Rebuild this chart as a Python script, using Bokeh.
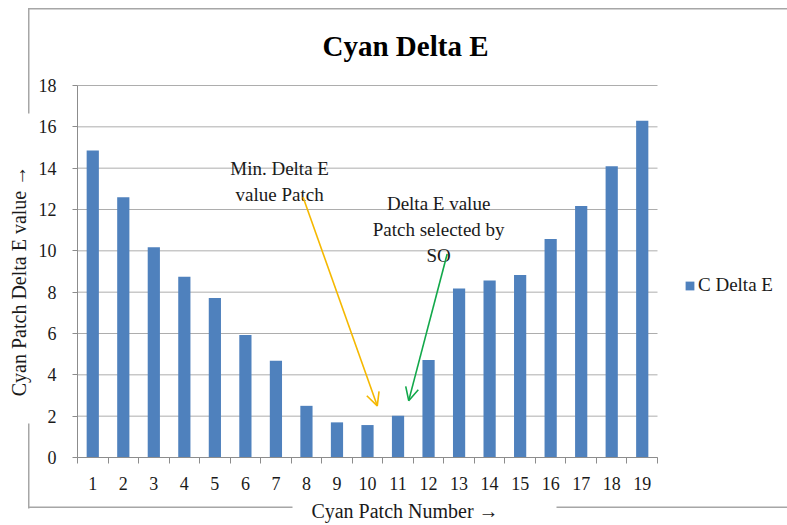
from math import pi
from bokeh.plotting import figure
from bokeh.models import (Label, Arrow, OpenHead, BoxAnnotation, FixedTicker,
                          Legend, LegendItem, ColumnDataSource, LinearAxis)
from bokeh.embed import file_html
from bokeh.resources import INLINE

# ---------------- data ----------------
patches = list(range(1, 20))
delta_e = [14.85, 12.59, 10.17, 8.75, 7.72, 5.93, 4.68, 2.50, 1.70, 1.57,
           2.02, 4.72, 8.18, 8.56, 8.83, 10.57, 12.17, 14.09, 16.30]
y_ticks = [0, 2, 4, 6, 8, 10, 12, 14, 16, 18]
series_name = "C Delta E"
title_text = "Cyan Delta E"
x_label = "Cyan Patch Number    \u2192"
y_label = "Cyan Patch Delta E value    \u2192"
note_min = ["Min. Delta E", "value Patch"]
note_so = ["Delta E value", "Patch selected by", "SO"]

# ---------------- style / layout ----------------
FONT = "Liberation Serif"
BAR = "#4F81BD"
GRID = "#adadad"
AXIS = "#8c8c8c"
BORDER = "#a6a6a6"
TXT = "#1a1a1a"

W, H = 787, 525
# plot area in canvas pixels
PL, PR, PT, PB = 77, 657, 85, 457
x_lo, x_hi = patches[0] - 0.5, patches[-1] + 0.5
y_lo, y_hi = y_ticks[0], y_ticks[-1]
sx_unit = (PR - PL) / (x_hi - x_lo)
sy_unit = (PB - PT) / (y_hi - y_lo)

x_range = (x_lo - PL / sx_unit, x_hi + (W - PR) / sx_unit)
y_range = (y_lo - (H - PB) / sy_unit, y_hi + PT / sy_unit)

p = figure(width=W, height=H, x_range=x_range, y_range=y_range,
           output_backend="svg", toolbar_location=None,
           x_axis_location=None, y_axis_location=None,
           min_border=0, min_border_left=0, min_border_right=0,
           min_border_top=0, min_border_bottom=0)
p.outline_line_color = None
p.background_fill_color = "white"
p.border_fill_color = "white"
p.xgrid.visible = False
p.ygrid.visible = False

# horizontal gridlines across the plot area
p.segment(x0=[x_lo] * len(y_ticks), x1=[x_hi] * len(y_ticks),
          y0=y_ticks, y1=y_ticks, line_color=GRID, line_width=1,
          level="underlay")

src = ColumnDataSource(dict(x=patches, top=delta_e))
bars = p.vbar(x="x", top="top", width=0.4, source=src,
              fill_color=BAR, line_color=None)

# x axis: labels at centers, ticks at category boundaries
minor = [x - 0.5 for x in patches] + [patches[-1] + 0.5]
xaxis = LinearAxis(fixed_location=y_lo, bounds=(x_lo, x_hi),
                   ticker=FixedTicker(ticks=patches, minor_ticks=minor))
xaxis.major_tick_out = 0
xaxis.major_tick_in = 0
xaxis.minor_tick_out = 6
xaxis.minor_tick_in = 0
xaxis.minor_tick_line_color = AXIS
xaxis.axis_line_color = AXIS
xaxis.major_label_text_font = FONT
xaxis.major_label_text_font_size = "18px"
xaxis.major_label_text_color = TXT
xaxis.major_label_standoff = 13
p.add_layout(xaxis, "below")

yaxis = LinearAxis(fixed_location=x_lo, bounds=(y_lo, y_hi),
                   ticker=FixedTicker(ticks=y_ticks))
yaxis.major_tick_out = 5
yaxis.major_tick_in = 0
yaxis.major_tick_line_color = AXIS
yaxis.minor_tick_line_color = None
yaxis.axis_line_color = AXIS
yaxis.major_label_text_font = FONT
yaxis.major_label_text_font_size = "18px"
yaxis.major_label_text_color = TXT
yaxis.major_label_standoff = 16
p.add_layout(yaxis, "left")

# ---------------- chart-area border (canvas px -> screen units) ----------------
def edge(l, r, t, b):
    p.add_layout(BoxAnnotation(left=l, right=r, top=H - t, bottom=H - b,
                               left_units="screen", right_units="screen",
                               top_units="screen", bottom_units="screen",
                               fill_color=BORDER, fill_alpha=1.0,
                               line_color=None, level="underlay"))

edge(27.5, 800, 7.5, 9)       # top
edge(27.5, 29, 7.5, 113)      # left, upper part
edge(27.5, 29, 423, 508)      # left, lower part
edge(27.5, 292, 506, 507.5)   # bottom, left part
edge(556, 800, 506, 507.5)    # bottom, right part

def canvas_label(px, py, text, size, angle=0.0, bold=False, color=TXT):
    p.add_layout(Label(x=px, y=H - py, x_units="screen", y_units="screen",
                       text=text, angle=angle, text_font=FONT,
                       text_font_style="bold" if bold else "normal",
                       text_font_size=size, text_color=color,
                       text_align="center", text_baseline="middle"))

canvas_label(405, 45, title_text, "29px", bold=True, color="black")
canvas_label(18, 273, y_label, "20px", angle=pi / 2)
canvas_label(412, 510, x_label, "20px")

# ---------------- annotations (data units) ----------------
for txt, yy in zip(note_min, [13.98, 12.73]):
    p.add_layout(Label(x=7.12, y=yy, text=txt, text_font=FONT,
                       text_font_size="19px", text_color=TXT,
                       text_align="center", text_baseline="middle"))
for txt, yy in zip(note_so, [12.29, 11.03, 9.77]):
    p.add_layout(Label(x=12.33, y=yy, text=txt, text_font=FONT,
                       text_font_size="19px", text_color=TXT,
                       text_align="center", text_baseline="middle"))

p.add_layout(Arrow(x_start=7.89, y_start=12.59, x_end=10.32, y_end=2.50,
                   line_color="#F5B800", line_width=1.6,
                   end=OpenHead(size=13, line_color="#F5B800", line_width=1.6)))
p.add_layout(Arrow(x_start=12.61, y_start=9.85, x_end=11.35, y_end=2.75,
                   line_color="#12A84A", line_width=1.6,
                   end=OpenHead(size=13, line_color="#12A84A", line_width=1.6)))

# ---------------- legend ----------------
legend = Legend(items=[LegendItem(label=series_name, renderers=[bars])],
                location=(684, H - 296), padding=0, margin=0, spacing=0,
                glyph_width=11, glyph_height=11, label_standoff=3,
                label_height=20,
                label_text_font=FONT, label_text_font_size="19px",
                label_text_color=TXT,
                border_line_color=None, background_fill_alpha=0)
p.add_layout(legend)

open("out.html", "w").write(file_html(p, INLINE))
